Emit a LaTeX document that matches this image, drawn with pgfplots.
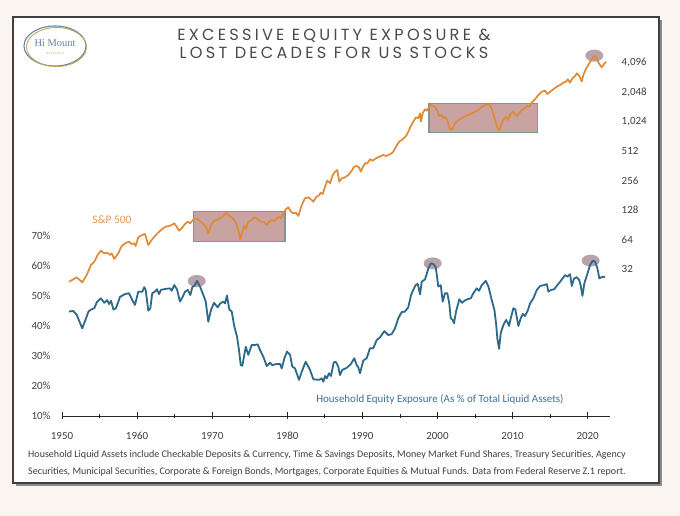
\documentclass[border=0pt]{standalone}
\usepackage{pgfplots}
\pgfplotsset{compat=1.18}
\usepackage{fontspec}
\setmainfont{Carlito}
\newfontfamily\titlefont[LetterSpace=20]{Poppins}
\newfontfamily\logofont{Liberation Serif}
\definecolor{bg}{HTML}{FAF5F0}
\definecolor{spx}{HTML}{E08A35}
\definecolor{spxlab}{HTML}{E39A52}
\definecolor{hh}{HTML}{2E688A}
\definecolor{hhlab}{HTML}{3E7295}
\definecolor{boxfill}{HTML}{C9A3A1}
\definecolor{boxedge}{HTML}{7E978F}
\definecolor{circ}{HTML}{B9A2AA}
\definecolor{labgray}{HTML}{404040}
\definecolor{titlegray}{HTML}{4A4A4A}
\definecolor{logoblue}{HTML}{6686A3}
\definecolor{logogold}{HTML}{C9A45C}

\pgfplotstableread{
year pct
1950.93 44.7
1951.50 44.9
1951.96 43.6
1952.70 39.1
1953.53 44.7
1953.89 45.4
1954.30 45.8
1954.63 47.8
1955.19 49.1
1955.63 47.6
1956.01 48.5
1956.26 47.2
1956.53 48.3
1956.84 45.4
1957.19 45.8
1957.73 49.6
1958.39 50.5
1958.92 50.8
1959.36 48.5
1959.72 46.9
1960.16 51.3
1960.69 51.3
1960.96 52.8
1961.14 51.9
1961.49 45.0
1961.76 45.8
1962.02 50.8
1962.38 51.3
1962.65 52.1
1962.92 50.5
1963.18 51.9
1963.72 52.2
1964.38 52.4
1964.61 51.6
1964.95 53.5
1965.31 52.1
1965.71 48.0
1966.07 49.6
1966.38 51.3
1966.74 51.9
1967.09 50.2
1967.35 52.8
1967.71 53.5
1967.98 54.9
1968.38 53.0
1968.82 50.2
1969.14 48.0
1969.48 41.3
1969.84 45.2
1970.24 47.6
1970.73 46.1
1971.08 47.4
1971.48 48.0
1971.71 47.4
1971.97 50.0
1972.28 45.4
1972.60 44.7
1972.95 39.7
1973.31 36.3
1973.57 31.9
1973.80 26.9
1974.01 26.7
1974.47 33.0
1974.81 30.3
1975.26 33.6
1975.70 33.6
1976.06 33.8
1976.37 31.9
1976.81 29.7
1977.26 26.6
1977.70 27.7
1978.01 26.9
1978.59 27.3
1979.03 27.3
1979.26 25.8
1979.61 29.2
1979.97 31.4
1980.37 30.3
1980.67 26.4
1981.03 25.8
1981.56 22.0
1981.92 24.7
1982.45 28.0
1983.03 25.3
1983.47 22.2
1984.22 22.0
1984.58 22.5
1984.80 21.4
1985.02 23.3
1985.25 22.5
1985.56 24.2
1985.82 23.3
1986.18 27.8
1986.45 28.0
1986.79 26.4
1987.01 23.6
1987.32 25.3
1987.91 26.0
1988.48 27.3
1988.92 29.2
1989.24 26.9
1989.45 26.2
1989.68 24.2
1990.12 28.4
1990.57 29.2
1991.01 32.5
1991.45 32.5
1991.90 35.2
1992.34 36.1
1992.92 38.2
1993.45 36.9
1993.90 37.2
1994.34 39.1
1994.78 42.5
1995.23 44.5
1995.67 44.7
1996.11 46.1
1996.48 50.2
1996.78 51.9
1997.10 53.5
1997.37 53.9
1997.68 50.4
1997.90 54.6
1998.34 55.4
1998.57 57.2
1998.78 59.1
1999.10 60.7
1999.45 60.5
1999.77 59.4
2000.11 53.0
2000.43 53.5
2000.70 48.0
2001.00 50.8
2001.31 50.8
2001.57 47.4
2001.76 42.5
2002.02 41.9
2002.20 40.8
2002.47 44.7
2002.91 48.8
2003.27 47.6
2003.58 48.3
2003.98 48.8
2004.43 49.1
2004.78 50.8
2005.23 52.4
2005.54 51.6
2005.90 53.5
2006.43 54.9
2006.78 53.0
2007.23 48.5
2007.58 45.2
2007.80 40.8
2007.97 35.8
2008.20 32.3
2008.42 37.5
2008.77 40.2
2009.13 41.9
2009.36 41.0
2009.53 39.9
2009.76 42.5
2010.11 45.8
2010.37 45.4
2010.77 39.9
2011.09 42.5
2011.36 43.9
2011.66 43.2
2012.02 45.0
2012.33 47.4
2012.77 49.1
2013.23 51.9
2013.67 53.2
2014.20 53.5
2014.56 53.8
2014.77 51.3
2015.13 51.9
2015.53 52.1
2015.97 53.5
2016.42 54.9
2016.99 56.8
2017.30 56.3
2017.66 57.1
2017.88 53.2
2018.19 55.7
2018.55 56.1
2018.86 55.2
2019.08 53.2
2019.30 49.9
2019.56 54.1
2019.96 57.2
2020.32 60.2
2020.68 61.6
2020.98 61.3
2021.29 59.1
2021.56 55.7
2021.82 56.1
2022.09 56.3
2022.31 56.1
}\hhdata

\pgfplotstableread{
year spx
1950.93 23.7
1951.50 25.1
1951.96 26.3
1952.26 25.1
1952.70 23.4
1953.29 27.8
1953.86 35.2
1954.30 38.0
1954.75 44.5
1955.19 49.2
1955.63 46.3
1956.09 46.9
1956.39 44.5
1956.62 46.3
1956.96 40.5
1957.50 46.3
1957.95 54.9
1958.39 58.5
1958.92 60.8
1959.28 57.6
1959.63 58.5
1959.81 54.9
1960.16 67.4
1960.69 71.2
1961.05 72.8
1961.49 56.3
1961.95 63.3
1962.61 72.8
1963.28 81.4
1963.81 86.5
1964.25 87.9
1964.61 90.0
1964.95 93.6
1965.27 86.5
1965.58 78.7
1965.94 83.3
1966.38 92.1
1966.74 97.2
1967.05 93.6
1967.35 99.5
1967.71 105.3
1968.24 101.2
1968.60 94.9
1968.95 90.0
1969.27 83.3
1969.48 74.1
1969.84 90.0
1970.28 99.5
1970.81 102.9
1971.27 107.9
1971.61 113.9
1971.93 120.1
1972.24 111.2
1972.60 107.9
1972.95 101.2
1973.26 90.0
1973.57 74.1
1973.74 64.3
1974.01 76.9
1974.28 87.9
1974.46 81.4
1974.81 97.2
1975.26 101.2
1975.61 107.9
1975.93 105.3
1976.23 99.5
1976.59 97.2
1976.94 94.9
1977.26 90.0
1977.57 97.2
1977.92 101.2
1978.23 98.8
1978.59 105.3
1978.90 109.4
1979.16 105.3
1979.47 118.5
1979.79 130.1
1980.14 136.4
1980.50 123.0
1980.80 118.5
1981.16 120.1
1981.47 111.2
1981.92 143.9
1982.36 168.6
1982.80 172.6
1983.25 162.0
1983.47 155.6
1983.83 172.6
1984.26 182.0
1984.45 192.2
1984.72 186.4
1985.02 221.3
1985.33 255.4
1985.69 239.7
1986.05 291.3
1986.36 315.0
1986.66 327.7
1986.93 248.9
1987.25 269.5
1987.69 276.0
1988.13 291.3
1988.58 322.3
1988.89 354.1
1989.24 360.0
1989.55 349.0
1989.78 315.0
1990.04 349.0
1990.35 383.5
1990.66 383.5
1991.02 421.4
1991.38 407.6
1991.82 431.6
1992.25 447.9
1992.79 466.0
1993.15 455.5
1993.45 466.0
1993.77 477.1
1994.12 503.6
1994.48 569.5
1994.92 640.2
1995.37 674.2
1995.81 728.2
1996.12 805.7
1996.44 921.0
1996.78 1021
1997.14 1131
1997.45 1104
1997.68 1242
1997.81 1021
1998.03 1242
1998.34 1364
1998.57 1320
1998.78 1396
1999.10 1509
1999.45 1473
1999.67 1429
1999.98 1320
2000.24 1165
2000.56 1193
2000.78 1104
2001.00 1147
2001.31 1061
2001.58 872.6
2001.76 838.8
2002.03 872.6
2002.34 981.7
2002.77 1061
2003.23 1104
2003.67 1165
2004.11 1193
2004.56 1242
2005.00 1289
2005.44 1342
2005.89 1450
2006.33 1509
2006.77 1545
2007.09 1450
2007.36 1289
2007.66 1061
2007.97 893.4
2008.20 825.0
2008.42 921.0
2008.77 1061
2009.13 1147
2009.43 1061
2009.66 1193
2010.02 1289
2010.33 1221
2010.63 1165
2010.90 1259
2011.22 1342
2011.66 1396
2011.97 1473
2012.23 1450
2012.55 1593
2012.99 1726
2013.43 1909
2013.88 2062
2014.32 2112
2014.63 1954
2014.99 2062
2015.43 2183
2015.88 2320
2016.32 2415
2016.76 2548
2017.12 2609
2017.35 2761
2017.65 2548
2017.96 2826
2018.32 2982
2018.54 3178
2018.89 2982
2019.21 2609
2019.42 3053
2019.74 3490
2020.09 3862
2020.40 4273
2020.75 4629
2020.98 4772
2021.21 4416
2021.55 3955
2021.87 3658
2022.18 3955
2022.44 4173
}\spxdata

\begin{document}
\begin{tikzpicture}[x=1bp,y=1bp]
% background and panel
\fill[bg] (0,0) rectangle (680,516);
\fill[black!45] (16,30) rectangle (662,496);
\filldraw[fill=white, draw=black!75, line width=1.2bp] (13,33) rectangle (659,499);

% logo
\draw[logoblue, line width=1.1bp] (55,470) ellipse [x radius=31, y radius=20];
\draw[logogold, line width=0.9bp] (56.5,469) ellipse [x radius=30, y radius=19.5];
\node[logoblue] at (55,473) {\logofont\fontsize{10.5}{12}\selectfont Hi Mount};
\node[logogold] at (55,462) {\fontsize{3}{4}\selectfont R E S E A R C H};

% title
\node[titlegray] at (334,480) {\titlefont\fontsize{16.2}{19}\selectfont EXCESSIVE EQUITY EXPOSURE \&};
\node[titlegray] at (334,463) {\titlefont\fontsize{16.2}{19}\selectfont LOST DECADES FOR US STOCKS};

% left axis: household equity exposure
\begin{axis}[
  at={(62bp,100bp)}, anchor=south west,
  scale only axis, width=548.2bp, height=361.2bp,
  xmin=1950, xmax=2023, ymin=10, ymax=130,
  clip=false,
  axis x line*=bottom, axis y line*=left,
  y axis line style={draw=none},
  x axis line style={line width=0.9bp, black!85},
  xtick={1950,1960,...,2020},
  minor x tick num=1,
  xtick align=center,
  major tick length=7bp, minor tick length=4bp,
  every tick/.style={black!85, line width=0.8bp},
  ytick={10,20,...,70},
  y tick style={draw=none},
  yticklabel={\pgfmathprintnumber{\tick}\%},
  /pgf/number format/assume math mode=true,
  tick label style={font=\fontsize{11}{13}\selectfont, text=labgray},
  xticklabel style={/pgf/number format/1000 sep={}, yshift=-9bp},
  yticklabel style={xshift=-8bp},
]
\fill[circ] (axis cs:1967.94,54.85) ellipse [x radius=9bp, y radius=6bp];
\fill[circ] (axis cs:1999.36,60.7) ellipse [x radius=9bp, y radius=6bp];
\fill[circ] (axis cs:2020.40,61.6) ellipse [x radius=9bp, y radius=6bp];
\addplot[hh, line width=1.8bp, line join=round] table[x=year, y=pct] {\hhdata};
\end{axis}

% right axis: S&P 500 (log 2)
\begin{axis}[
  at={(62bp,100bp)}, anchor=south west,
  scale only axis, width=548.2bp, height=361.2bp,
  xmin=1950, xmax=2023,
  ymode=log, log basis y=2, ymin=1.012, ymax=4909,
  clip=false,
  axis x line=none, axis y line*=right,
  y axis line style={draw=none},
  y tick style={draw=none},
  ytick={32,64,128,256,512,1024,2048,4096},
  yticklabels={32,64,128,256,512,{1,024},{2,048},{4,096}},
  tick label style={font=\fontsize{11}{13}\selectfont, text=labgray},
  yticklabel style={anchor=west, xshift=8bp},
]
\filldraw[fill=boxfill, draw=boxedge, line width=1.3bp] (axis cs:1967.48,60.8) rectangle (axis cs:1979.70,123);
\filldraw[fill=boxfill, draw=boxedge, line width=1.3bp] (axis cs:1998.87,787) rectangle (axis cs:2013.30,1571);
\fill[circ] (axis cs:2020.88,4808) ellipse [x radius=9bp, y radius=6bp];
\addplot[spx, line width=1.7bp, line join=round] table[x=year, y=spx] {\spxdata};
\end{axis}

% series labels
\node[spxlab] at (112,296) {\fontsize{11.5}{13}\selectfont S\&P 500};
\node[hhlab] at (440,117) {\fontsize{11}{13}\selectfont Household Equity Exposure (As \% of Total Liquid Assets)};

% footnote
\node[labgray, anchor=west, inner sep=0] at (28,61) {\fontsize{10.1}{12}\selectfont Household Liquid Assets include Checkable Deposits \& Currency, Time \& Savings Deposits, Money Market Fund Shares, Treasury Securities, Agency};
\node[labgray, anchor=west, inner sep=0] at (28,44) {\fontsize{10.1}{12}\selectfont Securities, Municipal Securities, Corporate \& Foreign Bonds, Mortgages, Corporate Equities \& Mutual Funds. Data from Federal Reserve Z.1 report.};
\end{tikzpicture}
\end{document}
